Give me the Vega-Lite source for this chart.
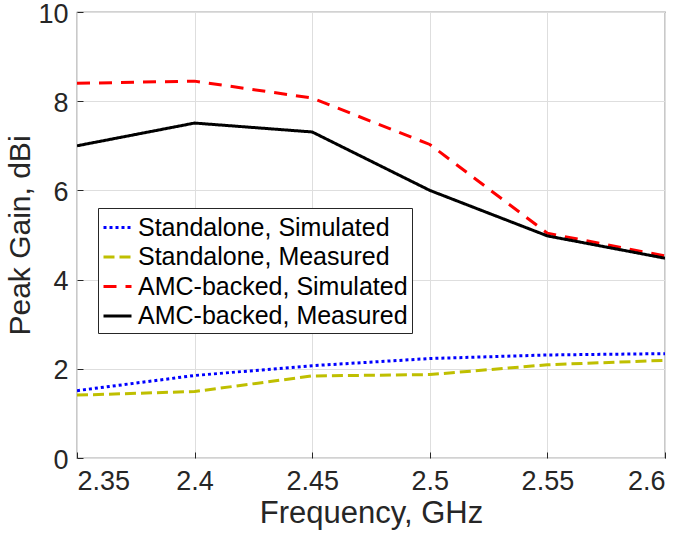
{
  "$schema": "https://vega.github.io/schema/vega-lite/v6.json",
  "width": 588,
  "height": 446,
  "autosize": {"type": "none"},
  "padding": {"left": 77, "top": 12, "right": 20, "bottom": 83},
  "background": "white",
  "config": {
    "font": "Liberation Sans",
    "view": {"stroke": "#4d4d4d", "strokeWidth": 1.2},
    "axis": {
      "labelFont": "Liberation Sans",
      "titleFont": "Liberation Sans",
      "labelFontSize": 27,
      "titleFontSize": 31,
      "labelColor": "#262626",
      "titleColor": "#262626",
      "titleFontWeight": "normal",
      "gridColor": "#dedede",
      "gridWidth": 1,
      "tickColor": "#262626",
      "tickSize": -6,
      "domain": false
    }
  },
  "data": {
    "values": [
      {"freq": 2.35, "gain": 1.51, "series": "Standalone, Simulated"},
      {"freq": 2.4, "gain": 1.85, "series": "Standalone, Simulated"},
      {"freq": 2.45, "gain": 2.07, "series": "Standalone, Simulated"},
      {"freq": 2.5, "gain": 2.23, "series": "Standalone, Simulated"},
      {"freq": 2.55, "gain": 2.31, "series": "Standalone, Simulated"},
      {"freq": 2.6, "gain": 2.34, "series": "Standalone, Simulated"},
      {"freq": 2.35, "gain": 1.41, "series": "Standalone, Measured"},
      {"freq": 2.4, "gain": 1.49, "series": "Standalone, Measured"},
      {"freq": 2.45, "gain": 1.84, "series": "Standalone, Measured"},
      {"freq": 2.5, "gain": 1.87, "series": "Standalone, Measured"},
      {"freq": 2.55, "gain": 2.09, "series": "Standalone, Measured"},
      {"freq": 2.6, "gain": 2.19, "series": "Standalone, Measured"},
      {"freq": 2.35, "gain": 8.4, "series": "AMC-backed, Simulated"},
      {"freq": 2.4, "gain": 8.45, "series": "AMC-backed, Simulated"},
      {"freq": 2.45, "gain": 8.07, "series": "AMC-backed, Simulated"},
      {"freq": 2.5, "gain": 7.03, "series": "AMC-backed, Simulated"},
      {"freq": 2.55, "gain": 5.04, "series": "AMC-backed, Simulated"},
      {"freq": 2.6, "gain": 4.53, "series": "AMC-backed, Simulated"},
      {"freq": 2.35, "gain": 7.0, "series": "AMC-backed, Measured"},
      {"freq": 2.4, "gain": 7.51, "series": "AMC-backed, Measured"},
      {"freq": 2.45, "gain": 7.31, "series": "AMC-backed, Measured"},
      {"freq": 2.5, "gain": 6.0, "series": "AMC-backed, Measured"},
      {"freq": 2.55, "gain": 4.98, "series": "AMC-backed, Measured"},
      {"freq": 2.6, "gain": 4.48, "series": "AMC-backed, Measured"}
    ]
  },
  "mark": {"type": "line", "strokeWidth": 3, "clip": true},
  "encoding": {
    "x": {
      "field": "freq",
      "type": "quantitative",
      "scale": {"domain": [2.35, 2.6], "nice": false, "zero": false},
      "axis": {"values": [2.35, 2.4, 2.45, 2.5, 2.55, 2.6], "format": "~g", "title": "Frequency, GHz", "labelPadding": 16, "titlePadding": 4}
    },
    "y": {
      "field": "gain",
      "type": "quantitative",
      "scale": {"domain": [0, 10], "nice": false},
      "axis": {"values": [0, 2, 4, 6, 8, 10], "title": "Peak Gain, dBi", "labelPadding": 15, "labelOffset": 2, "titlePadding": 2, "titleFontSize": 30}
    },
    "color": {
      "field": "series",
      "type": "nominal",
      "scale": {
        "domain": ["Standalone, Simulated", "Standalone, Measured", "AMC-backed, Simulated", "AMC-backed, Measured"],
        "range": ["#0000ff", "#bfbf00", "#ff0000", "#000000"]
      },
      "legend": {
        "title": null,
        "orient": "none",
        "legendX": 21,
        "legendY": 196,
        "labelFontSize": 25,
        "labelFont": "Liberation Sans",
        "labelColor": "#000000",
        "labelLimit": 400,
        "symbolType": "stroke",
        "symbolSize": 784,
        "symbolStrokeWidth": 3,
        "strokeColor": "#262626",
        "fillColor": "white",
        "padding": 4,
        "rowPadding": 0.5,
        "labelOffset": 5
      }
    },
    "strokeDash": {
      "field": "series",
      "type": "nominal",
      "scale": {
        "domain": ["Standalone, Simulated", "Standalone, Measured", "AMC-backed, Simulated", "AMC-backed, Measured"],
        "range": [[3, 3], [11, 5], [13, 9], [1, 0]]
      }
    }
  }
}
